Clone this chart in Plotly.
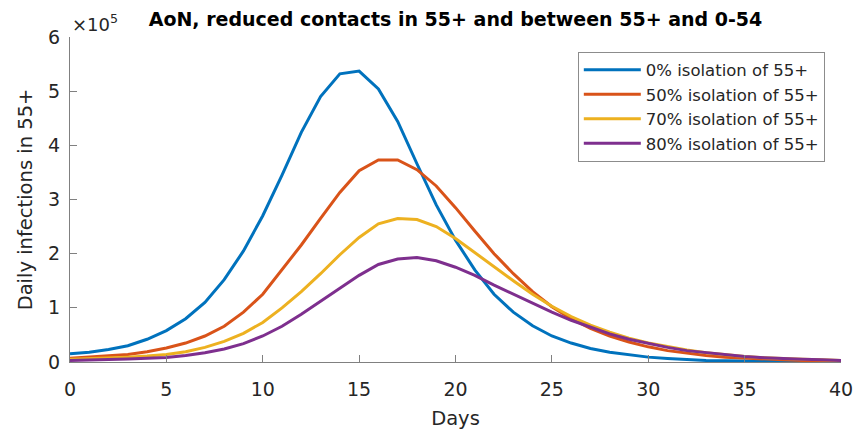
import plotly.graph_objects as go

days = list(range(0, 41))

# Daily infections in 55+ (in units of 1e5)
iso0 = [0.15, 0.18, 0.23, 0.30, 0.42, 0.58, 0.80, 1.10, 1.52, 2.05, 2.70,
        3.45, 4.24, 4.90, 5.32, 5.37, 5.04, 4.44, 3.66, 2.90, 2.25, 1.70,
        1.25, 0.92, 0.67, 0.48, 0.35, 0.25, 0.18, 0.13, 0.09, 0.065, 0.045,
        0.03, 0.022, 0.015, 0.01, 0.007, 0.005, 0.004, 0.003]
iso50 = [0.07, 0.09, 0.11, 0.14, 0.19, 0.26, 0.35, 0.48, 0.66, 0.92, 1.25,
         1.70, 2.16, 2.65, 3.13, 3.53, 3.73, 3.73, 3.55, 3.25, 2.85, 2.42,
         2.00, 1.63, 1.30, 1.02, 0.80, 0.62, 0.48, 0.37, 0.28, 0.21, 0.16,
         0.12, 0.09, 0.07, 0.05, 0.04, 0.03, 0.02, 0.02]
iso70 = [0.05, 0.06, 0.07, 0.09, 0.11, 0.14, 0.19, 0.27, 0.38, 0.53, 0.73,
         1.00, 1.30, 1.63, 1.98, 2.30, 2.55, 2.65, 2.63, 2.50, 2.28, 2.02,
         1.75, 1.50, 1.25, 1.03, 0.84, 0.68, 0.55, 0.44, 0.35, 0.28, 0.22,
         0.17, 0.13, 0.10, 0.08, 0.06, 0.05, 0.04, 0.03]
iso80 = [0.03, 0.035, 0.045, 0.055, 0.07, 0.085, 0.12, 0.17, 0.24, 0.34, 0.48,
         0.66, 0.88, 1.12, 1.37, 1.60, 1.80, 1.90, 1.93, 1.87, 1.75, 1.60,
         1.42, 1.25, 1.08, 0.92, 0.77, 0.64, 0.52, 0.42, 0.34, 0.27, 0.21,
         0.17, 0.13, 0.10, 0.08, 0.06, 0.05, 0.04, 0.03]

series_names = ["0% isolation of 55+", "50% isolation of 55+",
                "70% isolation of 55+", "80% isolation of 55+"]
series_vals = [iso0, iso50, iso70, iso80]
colors = ["#0072BD", "#D95319", "#EDB120", "#7E2F8E"]

yticks = [0, 1, 2, 3, 4, 5, 6]
xticks = [0, 5, 10, 15, 20, 25, 30, 35, 40]

FONT = "DejaVu Sans, Liberation Sans, Arial, sans-serif"
TXT = "#262626"
AX = "#808080"

fig = go.Figure()
for name, vals, c in zip(series_names, series_vals, colors):
    fig.add_trace(go.Scatter(
        x=days, y=[v * 1e5 for v in vals], mode="lines", name=name,
        line=dict(color=c, width=3)))

fig.update_layout(
    width=855, height=431,
    margin=dict(l=70, r=14, t=37, b=69),
    paper_bgcolor="white", plot_bgcolor="white",
    font=dict(family=FONT, size=19, color=TXT),
    title=dict(text="<b>AoN, reduced contacts in 55+ and between 55+ and 0-54</b>",
               x=0.5, xref="paper", xanchor="center",
               y=0.955, yref="container", yanchor="middle",
               font=dict(size=19, color="black", family=FONT)),
    showlegend=True,
    legend=dict(x=0.979, y=0.955, xanchor="right", yanchor="top",
                bgcolor="white", bordercolor="#8c8c8c", borderwidth=1,
                font=dict(size=16.5, color=TXT, family=FONT),
                itemwidth=57, tracegroupgap=0),
)
fig.update_xaxes(
    range=[0, 40], tickvals=xticks, ticktext=[str(t) for t in xticks],
    showgrid=False, zeroline=False, showline=True, linecolor=AX, linewidth=1,
    ticks="inside", ticklen=7, tickcolor=AX, ticklabelstandoff=10,
    automargin=False,
    title=dict(text="Days", standoff=12, font=dict(size=19.5, color=TXT)),
    tickfont=dict(size=19, color=TXT))
fig.update_yaxes(
    range=[0, 6e5], tickvals=[t * 1e5 for t in yticks],
    ticktext=[str(t) for t in yticks],
    showgrid=False, zeroline=False, showline=True, linecolor=AX, linewidth=1,
    ticks="inside", ticklen=7, tickcolor=AX, ticklabelstandoff=5,
    automargin=False,
    title=dict(text="Daily infections in 55+", standoff=10,
               font=dict(size=19.5, color=TXT)),
    tickfont=dict(size=19, color=TXT))

fig.add_annotation(
    text="×10<sup>5</sup>", xref="paper", yref="paper", x=0, y=1.0,
    xanchor="left", yanchor="bottom", showarrow=False,
    font=dict(size=18, color=TXT, family=FONT))

fig.write_html("out.html")
